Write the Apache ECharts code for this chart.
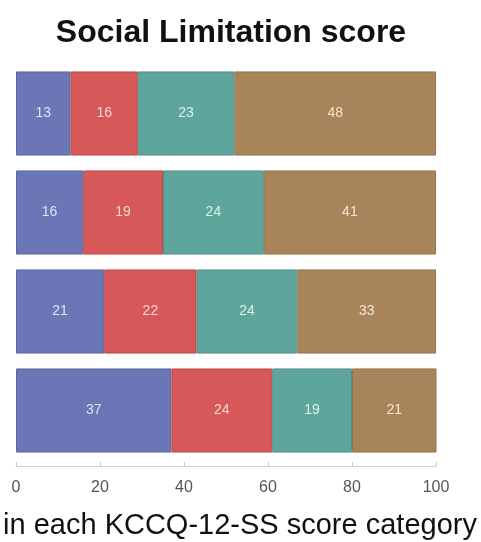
<!DOCTYPE html>
<html><head><meta charset="utf-8">
<script src="https://cdn.jsdelivr.net/npm/echarts@6/dist/echarts.min.js"></script>
<style>html,body{margin:0;padding:0;background:#fff}#c{width:481px;height:542px}</style>
</head><body><div id="c"></div>
<script>
const categories = ['Row1', 'Row2', 'Row3', 'Row4'];
const seriesBlue = [13, 16, 21, 37];
const seriesRed = [16, 19, 22, 24];
const seriesTeal = [23, 24, 24, 19];
const seriesBrown = [48, 41, 33, 21];
const xTicks = [0, 20, 40, 60, 80, 100];
const colors = ['#6a76b6', '#d65858', '#5ea59c', '#a8845a'];
const borders = ['#5d68a3', '#c24c4c', '#529188', '#96754f'];
const labelColors = ['#dfe2f0', '#f6d6d4', '#def0ec', '#f3e6d3'];

const chart = echarts.init(document.getElementById('c'));
const data = [seriesBlue, seriesRed, seriesTeal, seriesBrown];
chart.setOption({
  animation: false,
  title: {
    text: 'Social Limitation score', left: 226, top: 12, textAlign: 'center',
    textStyle: {fontFamily: 'Liberation Sans', fontWeight: 'bold', fontSize: 32, color: '#111'}
  },
  grid: {left: 16, right: 45, top: 64, height: 396, containLabel: false, outerBoundsMode: 'none'},
  xAxis: {
    type: 'value', min: 0, max: 100, interval: 20, offset: 6,
    name: 'in each KCCQ-12-SS score category', nameLocation: 'middle', nameGap: 45,
    nameTextStyle: {fontFamily: 'Liberation Sans', fontSize: 29, color: '#111', padding: [0, 0, 0, 28]},
    axisLine: {show: true, lineStyle: {color: '#d0d0d0', width: 1}},
    axisTick: {show: true, length: 4, inside: true, lineStyle: {color: '#c8c8c8'}},
    splitLine: {show: false},
    axisLabel: {fontFamily: 'Liberation Sans', fontSize: 16, color: '#555', margin: 14,
      formatter: v => xTicks.includes(v) ? String(v) : ''}
  },
  yAxis: {
    type: 'category', data: categories, inverse: true,
    axisLine: {show: false}, axisTick: {show: false}, axisLabel: {show: false}
  },
  series: data.map((d, i) => ({
    type: 'bar', stack: 'total', data: d, barCategoryGap: '15%',
    itemStyle: {color: colors[i], borderColor: borders[i], borderWidth: 1},
    label: {show: true, position: 'inside', color: labelColors[i],
      fontFamily: 'Liberation Sans', fontSize: 14}
  }))
});
</script></body></html>
